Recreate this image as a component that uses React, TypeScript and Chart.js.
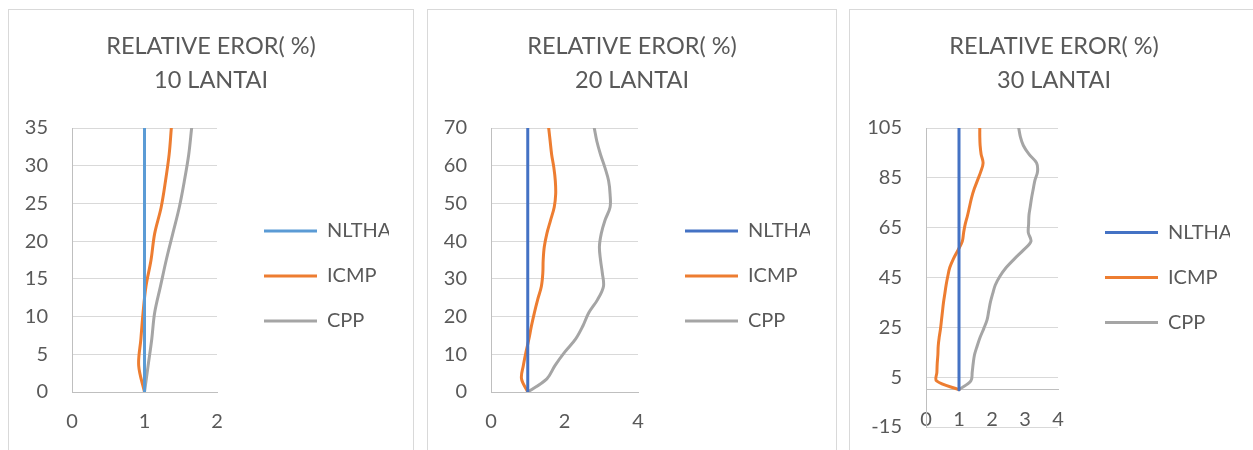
import React, { useEffect, useRef } from "react";
import { Chart, registerables } from "chart.js";

Chart.register(...registerables);

const FONT = "Lato, 'Open Sans', sans-serif";
const TEXT_COLOR = "#595959";

const SERIES_NAMES = ["NLTHA", "ICMP", "CPP"];
const TITLE_LINE = "RELATIVE EROR( %)";
const PANEL_SUBTITLES = ["10 LANTAI", "20 LANTAI", "30 LANTAI"];

// ---- 10 lantai ----
const heights10 = [0, 3.5, 7, 10.5, 14, 17.5, 21, 24.5, 28, 31.5, 35];
const nltha10 = [1, 1, 1, 1, 1, 1, 1, 1, 1, 1, 1];
const icmp10 = [1.0, 0.92, 0.95, 0.98, 1.02, 1.09, 1.14, 1.23, 1.29, 1.34, 1.37];
const cpp10 = [1.0, 1.05, 1.1, 1.14, 1.22, 1.3, 1.39, 1.48, 1.55, 1.61, 1.65];

// ---- 20 lantai ----
const heights20 = [0, 3.5, 7, 10.5, 14, 17.5, 21, 24.5, 28, 31.5, 35, 38.5, 42, 45.5, 49, 52.5, 56, 59.5, 63, 66.5, 70];
const nltha20 = [1, 1, 1, 1, 1, 1, 1, 1, 1, 1, 1, 1, 1, 1, 1, 1, 1, 1, 1, 1, 1];
const icmp20 = [1.0, 0.83, 0.88, 0.95, 1.03, 1.1, 1.18, 1.27, 1.37, 1.41, 1.42, 1.45, 1.52, 1.62, 1.72, 1.76, 1.75, 1.71, 1.65, 1.61, 1.57];
const cpp20 = [1.0, 1.52, 1.74, 2.0, 2.3, 2.5, 2.66, 2.9, 3.06, 3.03, 2.98, 2.95, 3.0, 3.1, 3.24, 3.24, 3.2, 3.1, 2.98, 2.88, 2.81];

// ---- 30 lantai ----
const heights30 = [0, 3.5, 7, 10.5, 14, 17.5, 21, 24.5, 28, 31.5, 35, 38.5, 42, 45.5, 49, 52.5, 56, 59.5, 63, 66.5, 70, 73.5, 77, 80.5, 84, 87.5, 91, 94.5, 98, 101.5, 105];
const nltha30 = [1, 1, 1, 1, 1, 1, 1, 1, 1, 1, 1, 1, 1, 1, 1, 1, 1, 1, 1, 1, 1, 1, 1, 1, 1, 1, 1, 1, 1, 1, 1];
const icmp30 = [1.0, 0.32, 0.33, 0.34, 0.36, 0.37, 0.4, 0.44, 0.47, 0.5, 0.53, 0.57, 0.61, 0.66, 0.72, 0.83, 0.97, 1.1, 1.14, 1.19, 1.26, 1.32, 1.38, 1.46, 1.56, 1.66, 1.73, 1.67, 1.64, 1.63, 1.63];
const cpp30 = [1.0, 1.36, 1.4, 1.43, 1.47, 1.55, 1.64, 1.75, 1.85, 1.9, 1.95, 2.02, 2.1, 2.24, 2.43, 2.68, 2.95, 3.18, 3.1, 3.11, 3.12, 3.16, 3.2, 3.25, 3.3, 3.38, 3.35, 3.12, 2.95, 2.86, 2.81];

// axis ranges
const yRange10 = { min: 0, max: 35, step: 5 };
const yRange20 = { min: 0, max: 70, step: 10 };
const yRange30 = { min: -15, max: 105, step: 20 };
const xRange10 = { min: 0, max: 2, step: 1 };
const xRange20 = { min: 0, max: 4, step: 2 };
const xRange30 = { min: 0, max: 4, step: 1 };

const COLORS = { nlthaLight: "#5B9BD5", nltha: "#4472C4", icmp: "#ED7D31", cpp: "#A5A5A5" };

type PanelCfg = {
  left: number;
  width: number;
  canvasH: number;
  sub: string;
  heights: number[];
  nltha: number[];
  icmp: number[];
  cpp: number[];
  nlthaColor: string;
  yRange: { min: number; max: number; step: number };
  xRange: { min: number; max: number; step: number };
  xAtZero: boolean;
  yWidth: number;
  padRight: number;
  padBottom: number;
  legendSpacer: number;
};

const PANELS: PanelCfg[] = [
  { left: 8, width: 404, canvasH: 440, sub: PANEL_SUBTITLES[0], heights: heights10, nltha: nltha10, icmp: icmp10, cpp: cpp10, nlthaColor: COLORS.nlthaLight, yRange: yRange10, xRange: xRange10, xAtZero: false, yWidth: 63, padRight: 24, padBottom: 13, legendSpacer: 20 },
  { left: 427, width: 408, canvasH: 440, sub: PANEL_SUBTITLES[1], heights: heights20, nltha: nltha20, icmp: icmp20, cpp: cpp20, nlthaColor: COLORS.nltha, yRange: yRange20, xRange: xRange20, xAtZero: false, yWidth: 63, padRight: 26, padBottom: 13, legendSpacer: 20 },
  { left: 849, width: 408, canvasH: 453, sub: PANEL_SUBTITLES[2], heights: heights30, nltha: nltha30, icmp: icmp30, cpp: cpp30, nlthaColor: COLORS.nltha, yRange: yRange30, xRange: xRange30, xAtZero: true, yWidth: 76, padRight: 28, padBottom: 12, legendSpacer: 0 },
];

function toPoints(xs: number[], ys: number[]) {
  return xs.map((x, i) => ({ x, y: ys[i] }));
}

function Panel({ cfg }: { cfg: PanelCfg }) {
  const ref = useRef<HTMLCanvasElement | null>(null);
  useEffect(() => {
    if (!ref.current) return;
    const mk = (label: string, xs: number[], color: string) => ({
      label,
      data: toPoints(xs, cfg.heights),
      borderColor: color,
      backgroundColor: color,
      borderWidth: 3,
      borderCapStyle: "round" as const,
      borderJoinStyle: "round" as const,
      pointRadius: 0,
      pointHoverRadius: 0,
      tension: 0.35,
      fill: false,
      yAxisID: "y",
      xAxisID: "x",
    });
    const chart = new Chart(ref.current, {
      type: "line",
      data: {
        datasets: [
          mk(SERIES_NAMES[0], cfg.nltha, cfg.nlthaColor),
          mk(SERIES_NAMES[1], cfg.icmp, COLORS.icmp),
          mk(SERIES_NAMES[2], cfg.cpp, COLORS.cpp),
        ],
      },
      options: {
        animation: false,
        responsive: false,
        layout: { padding: { left: 0, right: 0, top: 0, bottom: cfg.padBottom } },
        plugins: {
          title: {
            display: true,
            text: [TITLE_LINE, cfg.sub],
            color: TEXT_COLOR,
            font: { family: FONT, size: 23.5, weight: "normal", lineHeight: 1.42 },
            padding: { top: 20, bottom: 31.3 },
          },
          legend: {
            position: "right",
            fullSize: false,
            maxWidth: 150,
            labels: {
              usePointStyle: true,
              pointStyle: "line",
              pointStyleWidth: 53,
              padding: 25,
              color: TEXT_COLOR,
              font: { family: FONT, size: 20 },
            },
            title: {
              display: cfg.legendSpacer > 0,
              text: "",
              font: { family: FONT, size: 12, lineHeight: 1 },
              padding: { top: cfg.legendSpacer, bottom: 0 },
            },
          },
          tooltip: { enabled: false },
        },
        scales: {
          x: {
            type: "linear",
            min: cfg.xRange.min,
            max: cfg.xRange.max,
            position: cfg.xAtZero ? ({ y: 0 } as any) : "bottom",
            grid: { display: false, drawTicks: false },
            border: { display: true, color: "#BFBFBF", width: 1 },
            ticks: { stepSize: cfg.xRange.step, color: TEXT_COLOR, font: { family: FONT, size: 20 }, padding: 18 },
            afterFit: cfg.xAtZero
              ? undefined
              : (s: any) => {
                  s.height = 45;
                },
          },
          y: {
            type: "linear",
            position: "left",
            min: cfg.yRange.min,
            max: cfg.yRange.max,
            grid: { color: "#D9D9D9", drawTicks: false, lineWidth: 1 },
            border: { display: true, color: "#BFBFBF", width: 1 },
            ticks: { stepSize: cfg.yRange.step, color: TEXT_COLOR, font: { family: FONT, size: 20 }, padding: 24 },
            afterFit: (s: any) => {
              s.width = cfg.yWidth;
            },
          },
          // spacer between plot area and legend
          gapR: {
            type: "linear",
            position: "right",
            weight: 0,
            display: true,
            grid: { display: false },
            border: { display: false },
            ticks: { display: false },
            afterFit: (s: any) => {
              s.width = 22;
            },
          },
          // spacer to the right of the legend
          edgeR: {
            type: "linear",
            position: "right",
            weight: 2000,
            display: true,
            grid: { display: false },
            border: { display: false },
            ticks: { display: false },
            afterFit: (s: any) => {
              s.width = cfg.padRight;
            },
          },
        },
      } as any,
    });
    return () => chart.destroy();
  }, [cfg]);

  return (
    <div
      style={{
        position: "absolute",
        left: cfg.left,
        top: 9,
        width: cfg.width,
        height: 470,
        border: "1px solid #D9D9D9",
        background: "#fff",
      }}
    >
      <canvas ref={ref} width={cfg.width} height={cfg.canvasH} style={{ display: "block", width: cfg.width, height: cfg.canvasH }} />
    </div>
  );
}

export default function App() {
  return (
    <div style={{ position: "fixed", left: 0, top: 0, width: 1253, height: 450, overflow: "hidden", background: "#fff" }}>
      {PANELS.map((p, i) => (
        <Panel key={i} cfg={p} />
      ))}
    </div>
  );
}
